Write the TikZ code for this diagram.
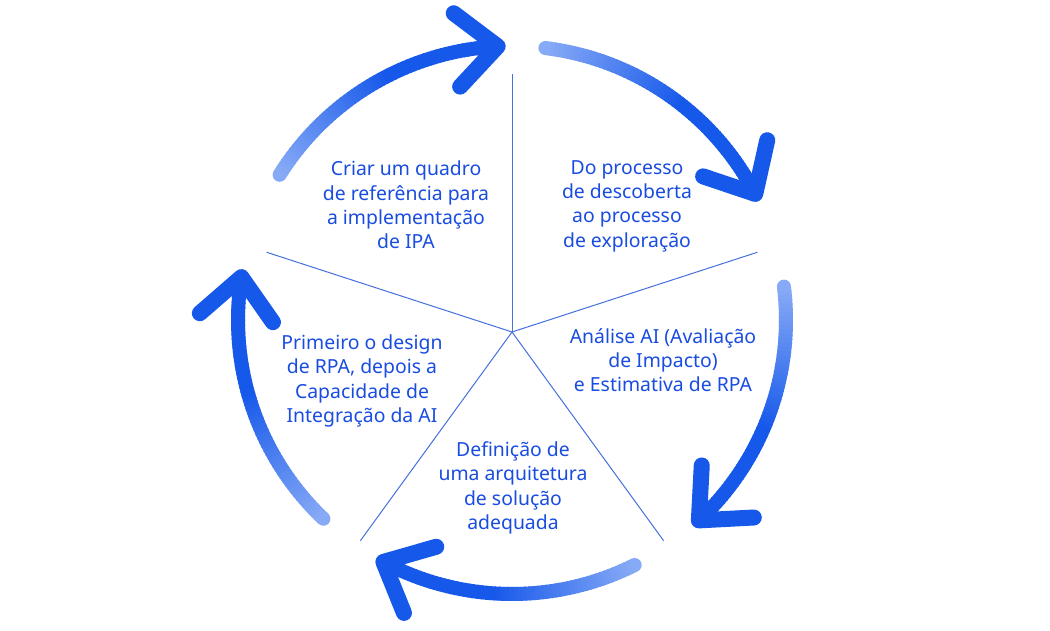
\documentclass[tikz,border=0pt]{standalone}
\usepackage{fontspec}
\setmainfont{Noto Sans}
\usetikzlibrary{calc}
\definecolor{arrowdark}{RGB}{22,88,234}
\definecolor{arrowlight}{RGB}{135,170,246}
\definecolor{txtblue}{RGB}{25,76,224}
\definecolor{lineblue}{RGB}{70,112,222}
\begin{document}
\begin{tikzpicture}[x=1pt,y=1pt,
  lbl/.style={text=txtblue, align=center, font=\fontsize{19.4}{24.3}\selectfont, inner sep=0pt},
  spoke/.style={draw=lineblue, line width=1pt},
  chev/.style={draw=arrowdark, line width=16pt, line cap=round, line join=round},
  seg/.style={line width=14pt}]
\fill[white] (0,0) rectangle (1050,630);
\useasboundingbox (0,0) rectangle (1050,630);
\coordinate (C) at (512,310);
\coordinate (O) at (512,298);
\foreach \ang/\nm in {90/s1,18/s2,306/s3,234/s4,162/s5}{
  \coordinate (\nm) at ($(O)+(\ang:258)$);
  \draw[spoke] (O) -- (\nm);
}
\foreach \ta/\hd/\nm in {148/93/a1, 83/27.4/a2, 7/-47/a3, -63.4/-118/a4, -133.5/-189/a5}{
  \coordinate (\nm tail) at ($(C)+(\ta:274)$);
  \coordinate (\nm head) at ($(C)+(\hd:274)$);
  \fill[arrowlight] (\nm tail) circle (7);
  \foreach \k in {0,...,59}{
    \pgfmathsetmacro\angA{\ta+(\hd-\ta)*\k/60}
    \pgfmathsetmacro\angB{\ta+(\hd-\ta)*(\k+1.3)/60}
    \pgfmathtruncatemacro\pp{min(100,\k*100/33)}
    \colorlet{segc}{arrowdark!\pp!arrowlight}
    \draw[seg, segc] ($(C)+(\angA:274)$) arc[start angle=\angA, end angle=\angB, radius=274];
  }
  \draw[chev] ($(\nm head)+(\hd+92+42:55)$) -- (\nm head) -- ($(\nm head)+(\hd+92-42:55)$);
}
\node[lbl] (t1) at (406,425) {Criar um quadro\\de referência para\\a implementação\\de IPA};
\node[lbl] (t2) at (627,424) {Do processo\\de descoberta\\ao processo\\de exploração};
\node[lbl] (t3) at (663,270) {Análise AI (Avaliação\\de Impacto)\\e Estimativa de RPA};
\node[lbl] (t4) at (513,142) {Definição de\\uma arquitetura\\de solução\\adequada};
\node[lbl] (t5) at (362,249) {Primeiro o design\\de RPA, depois a\\Capacidade de\\Integração da AI};
\end{tikzpicture}
\end{document}
